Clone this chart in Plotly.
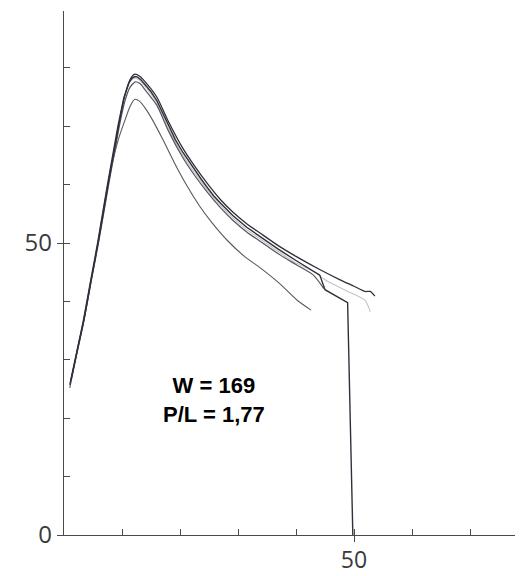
import plotly.graph_objects as go

# Curve A (top)
xa = [1.2, 2.2, 3.5, 4.7, 6.0, 7.7, 9.5, 10.5, 11.4, 12.2, 13.0, 14.0, 16.0, 18.0, 20.5, 22.5, 24.7, 27.0,
      29.1, 31.5, 33.8, 37.0, 40.0, 44.0, 47.6, 50.0, 51.9, 52.8, 53.6]
ya = [26.5, 31.2, 37.2, 43.8, 50.6, 60.5, 70.5, 75.3, 78.0, 78.9, 78.6, 77.6, 75.0, 70.8, 66.2, 63.2, 60.2, 57.4,
      55.3, 53.3, 51.7, 49.5, 47.7, 45.5, 43.7, 42.6, 41.7, 41.7, 40.9]

# Curve B (ends with the vertical drop)
xb = [1.0, 2.0, 3.3, 4.5, 5.8, 7.5, 9.3, 10.3, 11.2, 11.7, 12.2, 12.7, 13.3, 14.0, 15.0, 16.0, 17.0, 18.0, 19.2,
      20.5, 21.5, 22.5, 23.6, 24.7, 25.8, 27.0, 29.1, 31.5, 33.8, 37.0, 40.0, 44.1, 45.0, 48.9, 49.8]
yb = [25.7, 30.5, 36.5, 43.0, 50.0, 60.0, 70.0, 74.8, 77.4, 78.2, 78.5, 78.4, 77.9, 77.1, 75.9, 74.4, 72.3, 70.1, 67.7,
      65.5, 64.0, 62.5, 61.0, 59.5, 58.1, 56.8, 54.7, 52.7, 51.1, 48.9, 47.0, 44.5, 42.0, 39.8, 0.0]

# Curve C
xc = [1.2, 2.2, 3.5, 4.7, 6.0, 7.7, 9.5, 10.5, 11.4, 12.3, 13.1, 14.0, 16.0, 18.0, 20.5, 22.5, 24.7, 27.0,
      29.1, 31.5, 33.8, 37.0, 40.0, 43.0, 44.8]
yc = [26.5, 31.2, 37.0, 43.5, 50.3, 60.0, 69.8, 74.3, 76.7, 77.6, 77.3, 76.2, 73.6, 69.2, 64.6, 61.6, 58.7, 56.0,
      53.9, 51.9, 50.3, 48.1, 46.3, 44.5, 42.2]

# Curve D (light grey)
xd = [1.1, 2.1, 3.4, 4.6, 5.9, 7.6, 9.4, 10.4, 11.3, 12.2, 13.0, 14.0, 16.0, 18.0, 20.5, 22.5, 24.7, 27.0,
      29.1, 31.5, 33.8, 37.0, 40.0, 43.3, 45.0, 48.5, 51.9, 52.8]
yd = [26.0, 30.8, 36.8, 43.2, 50.1, 60.2, 70.1, 74.9, 77.6, 78.2, 77.9, 76.8, 74.0, 69.6, 65.0, 62.0, 59.1, 56.4,
      54.3, 52.3, 50.7, 48.5, 46.6, 45.0, 43.7, 41.9, 40.2, 38.2]

# Curve E (lower)
xe = [1.0, 2.0, 3.3, 4.5, 5.8, 7.5, 9.3, 10.5, 11.4, 12.2, 13.0, 14.0, 15.3, 17.0, 19.0, 21.2, 23.4, 25.5,
      28.3, 31.0, 34.3, 37.0, 40.2, 42.6]
ye = [25.2, 30.0, 36.0, 42.5, 49.7, 59.7, 67.5, 71.0, 73.4, 74.6, 74.3, 73.1, 71.0, 67.8, 63.8, 59.8, 56.3, 53.5,
      50.3, 47.8, 45.4, 43.2, 40.2, 38.5]

label_text = "<b>W = 169</b><br><b>P/L = 1,77</b>"
label_x, label_y = 25.9, 23.1

y_ticks = [0, 10, 20, 30, 40, 50, 60, 70, 80]
x_ticks = [0, 10, 20, 30, 40, 50, 60, 70]
y_labels = [0, 50]
x_labels = [50]

dark = "#30303c"
sm = 0.6
fig = go.Figure()
fig.add_trace(go.Scatter(x=xd, y=yd, mode="lines", line=dict(color="#c4c4c4", width=1.1, shape="spline", smoothing=sm)))
fig.add_trace(go.Scatter(x=xe, y=ye, mode="lines", line=dict(color="#5a5a5a", width=1.1, shape="spline", smoothing=sm)))
fig.add_trace(go.Scatter(x=xc, y=yc, mode="lines", line=dict(color="#55555f", width=1.2, shape="spline", smoothing=sm)))
fig.add_trace(go.Scatter(x=xb, y=yb, mode="lines", line=dict(color=dark, width=1.4, shape="linear")))
fig.add_trace(go.Scatter(x=xa, y=ya, mode="lines", line=dict(color=dark, width=1.3, shape="spline", smoothing=sm)))
# empty trace so the overlay tick axes get drawn
fig.add_trace(go.Scatter(x=[], y=[], xaxis="x2", yaxis="y2", mode="lines", hoverinfo="skip"))

fig.add_annotation(x=label_x, y=label_y, text=label_text, showarrow=False,
                   font=dict(family="Liberation Sans, Arial", size=22, color="#000000"),
                   xanchor="center", yanchor="middle", align="center")

xr = [0, 459 / 5.8]
yr = [0, 524 / 5.84]
tickfont = dict(family="Open Sans", size=24, color="#3a3a3a")
xtickfont = dict(family="Open Sans", size=23, color="#3a3a3a")
# the page body adds an 8 px offset, so the figure is 8 px smaller than the window
fig.update_layout(
    width=515, height=568,
    margin=dict(l=56, r=0, t=3, b=41, autoexpand=False),
    paper_bgcolor="white", plot_bgcolor="white",
    showlegend=False,
    xaxis=dict(range=xr, showgrid=False, zeroline=False, showline=True, linecolor="#4a4a4a", linewidth=1.3,
               tickmode="array", tickvals=x_labels, ticktext=[str(v) for v in x_labels], automargin=False,
               ticks="outside", ticklen=6, tickcolor="#4a4a4a", tickwidth=1.3, tickfont=xtickfont,
               ticklabelstandoff=-2),
    yaxis=dict(range=yr, showgrid=False, zeroline=False, showline=True, linecolor="#4a4a4a", linewidth=1.3,
               tickmode="array", tickvals=y_labels, ticktext=[str(v) for v in y_labels], automargin=False,
               ticks="outside", ticklen=6, tickcolor="#4a4a4a", tickwidth=1.3, tickfont=tickfont),
    xaxis2=dict(range=xr, overlaying="x", anchor="y", side="bottom", showgrid=False, zeroline=False,
                showline=False, tickmode="array", tickvals=x_ticks, showticklabels=False, automargin=False,
                ticks="inside", ticklen=6, tickcolor="#4a4a4a", tickwidth=1.3),
    yaxis2=dict(range=yr, overlaying="y", anchor="x", side="left", showgrid=False, zeroline=False,
                showline=False, tickmode="array", tickvals=y_ticks, showticklabels=False, automargin=False,
                ticks="inside", ticklen=6, tickcolor="#4a4a4a", tickwidth=1.3),
)
fig.write_html("out.html")
